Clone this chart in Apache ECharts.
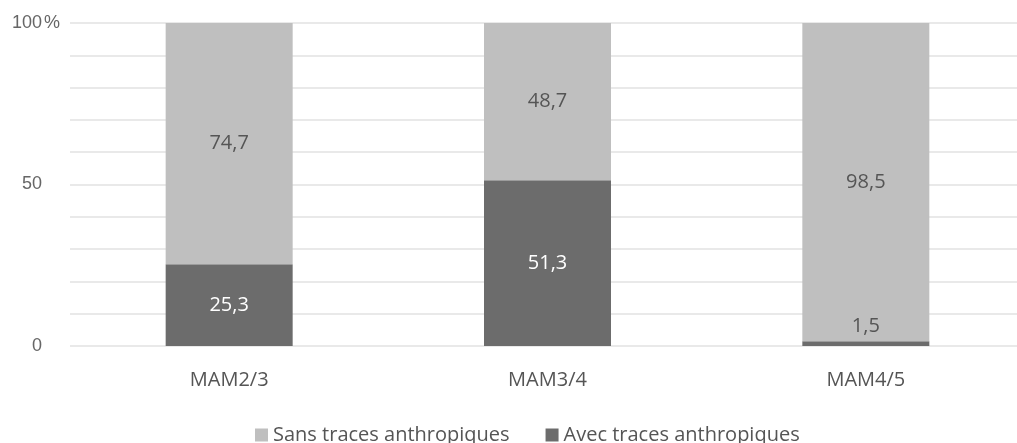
<!DOCTYPE html>
<html>
<head>
<meta charset="utf-8">
<script src="https://cdn.jsdelivr.net/npm/echarts@6/dist/echarts.min.js"></script>
<style>
  html, body { margin: 0; padding: 0; background: #fff; }
  #chart { width: 1017px; height: 443px; }
</style>
</head>
<body>
<div id="chart"></div>
<script>
// Share of pieces with / without anthropic traces, by age class (%)
const categories = ['MAM2/3', 'MAM3/4', 'MAM4/5'];
const avecTraces = [25.3, 51.3, 1.5];
const sansTraces = [74.7, 48.7, 98.5];
const yTicks = [0, 50, 100];

const fmt = v => String(v).replace('.', ',');
const textFont = '"Open Sans", sans-serif';
const numFont = '"Liberation Sans", Arial, sans-serif';

// Thin segments cannot hold their label: put it just above the segment in dark text.
const avecData = avecTraces.map(v => v < 5
  ? { value: v, label: { position: 'top', distance: 5, color: '#555' } }
  : v);

const chart = echarts.init(document.getElementById('chart'));
chart.setOption({
  animation: false,
  grid: { left: 70, top: 23, width: 955, height: 323, containLabel: false, outerBoundsMode: 'none' },
  legend: {
    left: 255,
    top: 424,
    padding: 0,
    itemWidth: 13,
    itemHeight: 13,
    itemGap: 36,
    icon: 'rect',
    textStyle: { fontFamily: textFont, fontSize: 20, lineHeight: 22, color: '#555' },
    data: ['Sans traces anthropiques', 'Avec traces anthropiques']
  },
  xAxis: {
    type: 'category',
    data: categories,
    axisLine: { show: false },
    axisTick: { show: false },
    axisLabel: { fontFamily: textFont, fontSize: 20, color: '#555', margin: 24 }
  },
  yAxis: {
    type: 'value',
    min: 0,
    max: 100,
    interval: 10,
    axisLine: { show: false },
    axisTick: { show: false },
    splitLine: { lineStyle: { color: '#e2e2e2', width: 1.5 } },
    axisLabel: {
      margin: 10,
      formatter: v => yTicks.includes(v) ? '{n|' + v + '}{s|' + (v === 100 ? '\u2009%' : '') + '}' : '',
      rich: {
        n: { fontFamily: numFont, fontSize: 18, color: '#666' },
        s: { fontFamily: numFont, fontSize: 18, color: '#666', width: 18, align: 'right' }
      }
    }
  },
  series: [
    {
      name: 'Avec traces anthropiques',
      type: 'bar',
      stack: 'total',
      barWidth: 127,
      data: avecData,
      itemStyle: { color: '#6c6c6c' },
      label: {
        show: true,
        position: 'inside',
        formatter: p => fmt(p.value),
        fontFamily: textFont,
        fontSize: 20,
        color: '#fff'
      }
    },
    {
      name: 'Sans traces anthropiques',
      type: 'bar',
      stack: 'total',
      barWidth: 127,
      data: sansTraces,
      itemStyle: { color: '#bfbfbf' },
      label: {
        show: true,
        position: 'inside',
        formatter: p => fmt(p.value),
        fontFamily: textFont,
        fontSize: 20,
        color: '#555'
      }
    }
  ]
});
</script>
</body>
</html>
